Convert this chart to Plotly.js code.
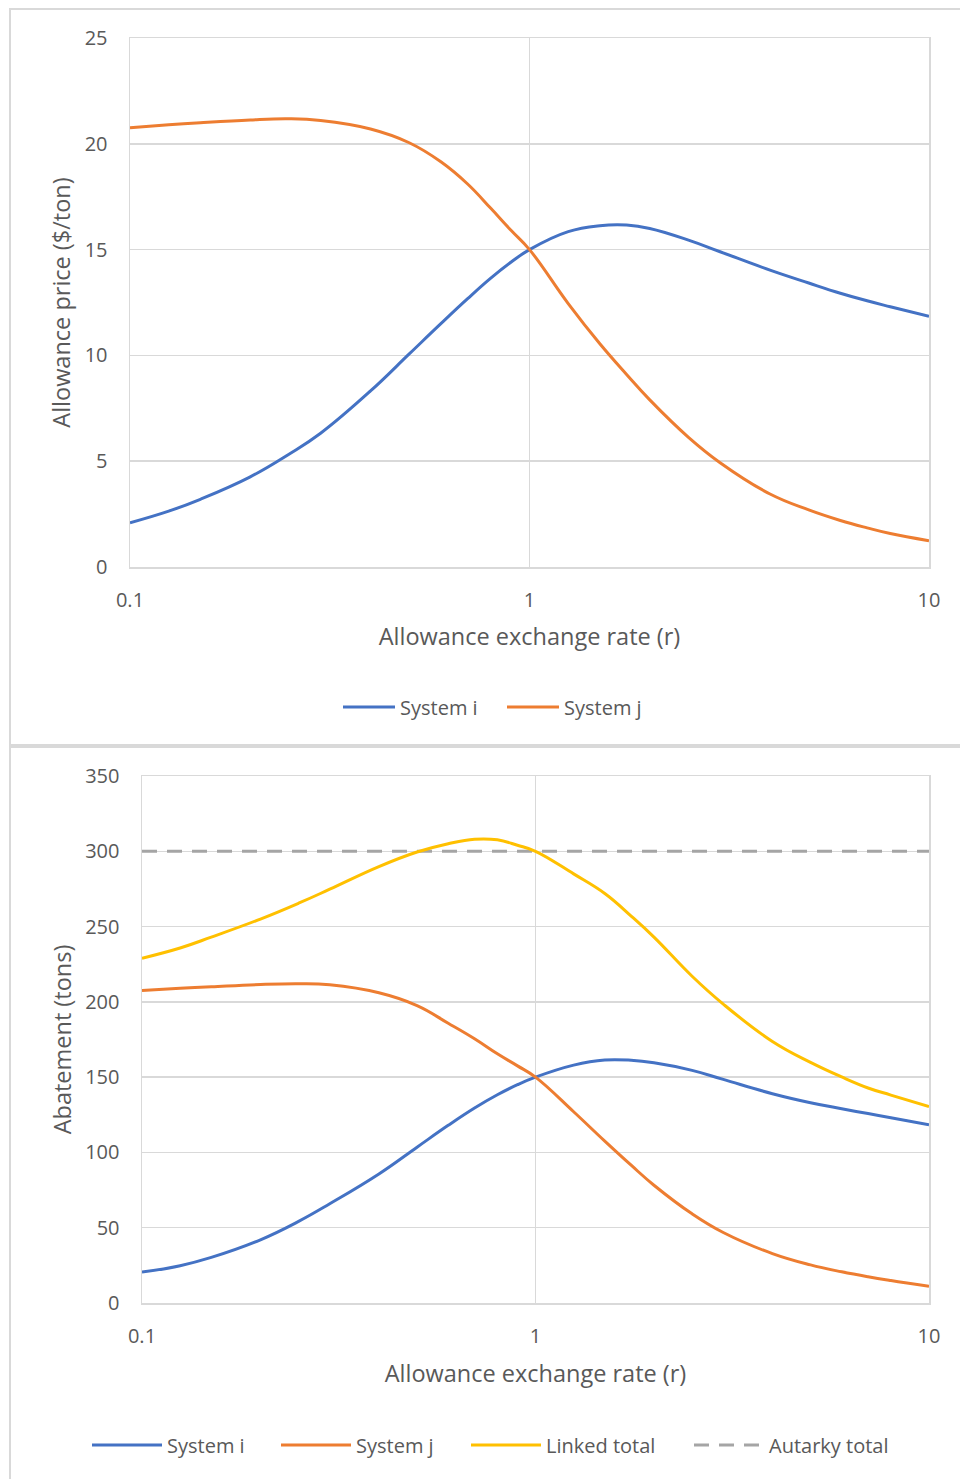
<!DOCTYPE html>
<html>
<head>
<meta charset="utf-8">
<script src="https://cdn.plot.ly/plotly-3.0.1.min.js"></script>
<style>
  html, body { margin: 0; padding: 0; background: #fff; }
  #chart { width: 960px; height: 1479px; }
</style>
</head>
<body>
<div id="chart"></div>
<script>
// Allowance exchange rate (r)
const rate = [0.1, 0.125, 0.15, 0.2, 0.25, 0.3, 0.4, 0.5, 0.6, 0.7, 0.8, 0.9, 1, 1.25, 1.5, 1.75, 2, 2.5, 3, 4, 5, 6, 7, 8, 10];

// Top panel: allowance price ($/ton)
const priceSystemI = [2.09, 2.64, 3.2, 4.26, 5.33, 6.32, 8.32, 10.07, 11.5, 12.68, 13.65, 14.41, 15.0, 15.85, 16.13, 16.16, 16.0, 15.45, 14.9, 14.03, 13.42, 12.94, 12.58, 12.3, 11.85];
const priceSystemJ = [20.76, 20.9, 21.0, 21.13, 21.18, 21.1, 20.7, 20.05, 19.15, 18.1, 16.95, 15.9, 15.0, 12.45, 10.55, 9.1, 7.9, 6.13, 4.93, 3.45, 2.7, 2.2, 1.85, 1.58, 1.24];

// Bottom panel: abatement (tons)
const abateSystemI = [20.5, 24.8, 30.3, 42, 54.2, 65.9, 85.7, 103.5, 118, 129.5, 138.3, 145, 150, 158, 161.4, 161.2, 159.5, 154.5, 148.5, 139, 133, 129, 125.8, 123.1, 118.3];
const abateSystemJ = [207.5, 209, 210, 211.5, 212, 211.3, 206, 197.5, 185.8, 175.5, 165.5, 157.5, 150, 127, 107.5, 91.5, 78.2, 59.2, 46.8, 32.8, 25.3, 20.7, 17.4, 14.9, 11.1];
const linkedTotal = [229, 235.8, 243, 255, 265.5, 274.8, 289.8, 299.5, 305, 308, 307.6, 304, 300, 285, 272, 257, 243, 217, 198.5, 173.7, 159.8, 150.1, 142.8, 138.1, 130.5];
const autarkyRate = [0.1, 10];
const autarkyTotal = [300, 300];

// Tick labels
const xTickVals = [0.1, 1, 10];
const xTickText = ['0.1', '1', '10'];

const W = 960, H = 1479;
const BLUE = '#4472C4', ORANGE = '#ED7D31', YELLOW = '#FFC000', GRAY = '#A5A5A5';
const GRID = '#D9D9D9', TXT = '#595959';
const FONT = 'Open Sans, Liberation Sans, sans-serif';

function px(x) { return x / W; }
function py(y) { return 1 - y / H; }

const lineStyle = (c) => ({ color: c, width: 3, shape: 'spline', smoothing: 1.2 });

const traces = [
  { x: rate, y: priceSystemI, name: 'System i', type: 'scatter', mode: 'lines', line: lineStyle(BLUE), xaxis: 'x', yaxis: 'y', legend: 'legend' },
  { x: rate, y: priceSystemJ, name: 'System j', type: 'scatter', mode: 'lines', line: lineStyle(ORANGE), xaxis: 'x', yaxis: 'y', legend: 'legend2' },
  { x: autarkyRate, y: autarkyTotal, name: 'Autarky total', type: 'scatter', mode: 'lines', line: { color: GRAY, width: 3, dash: '15px,10px' }, xaxis: 'x2', yaxis: 'y2', legend: 'legend6' },
  { x: rate, y: abateSystemI, name: 'System i', type: 'scatter', mode: 'lines', line: lineStyle(BLUE), xaxis: 'x2', yaxis: 'y2', legend: 'legend3' },
  { x: rate, y: abateSystemJ, name: 'System j', type: 'scatter', mode: 'lines', line: lineStyle(ORANGE), xaxis: 'x2', yaxis: 'y2', legend: 'legend4' },
  { x: rate, y: linkedTotal, name: 'Linked total', type: 'scatter', mode: 'lines', line: lineStyle(YELLOW), xaxis: 'x2', yaxis: 'y2', legend: 'legend5' }
];

const xBase = {
  type: 'log', range: [-1, 1], tickvals: xTickVals, ticktext: xTickText,
  showgrid: true, gridcolor: GRID, gridwidth: 1.5, zeroline: false,
  showline: true, linecolor: GRID, linewidth: 1.5, mirror: true,
  ticks: '', ticklabelstandoff: 14,
  tickfont: { family: FONT, size: 20, color: TXT },
  fixedrange: true
};
const yBase = {
  showgrid: true, gridcolor: GRID, gridwidth: 1.5, zeroline: false,
  showline: true, linecolor: GRID, linewidth: 1.5, mirror: true,
  ticks: '', ticklabelstandoff: 17,
  tickfont: { family: FONT, size: 20, color: TXT },
  fixedrange: true
};
const titleFont = { family: FONT, size: 23.5, color: TXT };

// Legend entry: line sample starts at pixel xLine, vertical centre yc
function legendAt(xLine, yc, itemw) {
  return {
    orientation: 'h', x: px(xLine - 5), xanchor: 'left', y: py(yc), yanchor: 'middle',
    font: { family: FONT, size: 20, color: TXT }, itemwidth: itemw,
    bgcolor: 'rgba(0,0,0,0)', borderwidth: 0
  };
}

const layout = {
  width: W, height: H,
  margin: { l: 0, r: 0, t: 0, b: 0 },
  paper_bgcolor: '#fff', plot_bgcolor: '#fff',
  font: { family: FONT, color: TXT },
  xaxis: Object.assign({}, xBase, {
    domain: [px(130), px(929)], anchor: 'y',
    title: { text: 'Allowance exchange rate (r)', font: titleFont, standoff: 17 }
  }),
  yaxis: Object.assign({}, yBase, {
    domain: [py(567), py(38)], anchor: 'x', range: [0, 25], dtick: 5,
    title: { text: 'Allowance price ($/ton)', font: titleFont, standoff: 7 }
  }),
  xaxis2: Object.assign({}, xBase, {
    domain: [px(142), px(929)], anchor: 'y2',
    title: { text: 'Allowance exchange rate (r)', font: titleFont, standoff: 18 }
  }),
  yaxis2: Object.assign({}, yBase, {
    domain: [py(1303), py(776)], anchor: 'x2', range: [0, 350], dtick: 50,
    title: { text: 'Abatement (tons)', font: titleFont, standoff: 7 }
  }),
  legend: legendAt(343, 707, 52),
  legend2: legendAt(507, 707, 52),
  legend3: legendAt(92, 1445, 70),
  legend4: legendAt(281, 1445, 70),
  legend5: legendAt(471, 1445, 70),
  legend6: legendAt(694, 1445, 70),
  shapes: [
    { type: 'rect', xref: 'paper', yref: 'paper', x0: px(10), x1: px(975), y0: py(745), y1: py(9), line: { color: GRID, width: 2 }, fillcolor: 'rgba(0,0,0,0)', layer: 'below' },
    { type: 'rect', xref: 'paper', yref: 'paper', x0: px(10), x1: px(975), y0: py(1495), y1: py(747), line: { color: GRID, width: 2 }, fillcolor: 'rgba(0,0,0,0)', layer: 'below' }
  ],
  showlegend: true
};

Plotly.newPlot('chart', traces, layout, { staticPlot: true, displayModeBar: false });
</script>
</body>
</html>
